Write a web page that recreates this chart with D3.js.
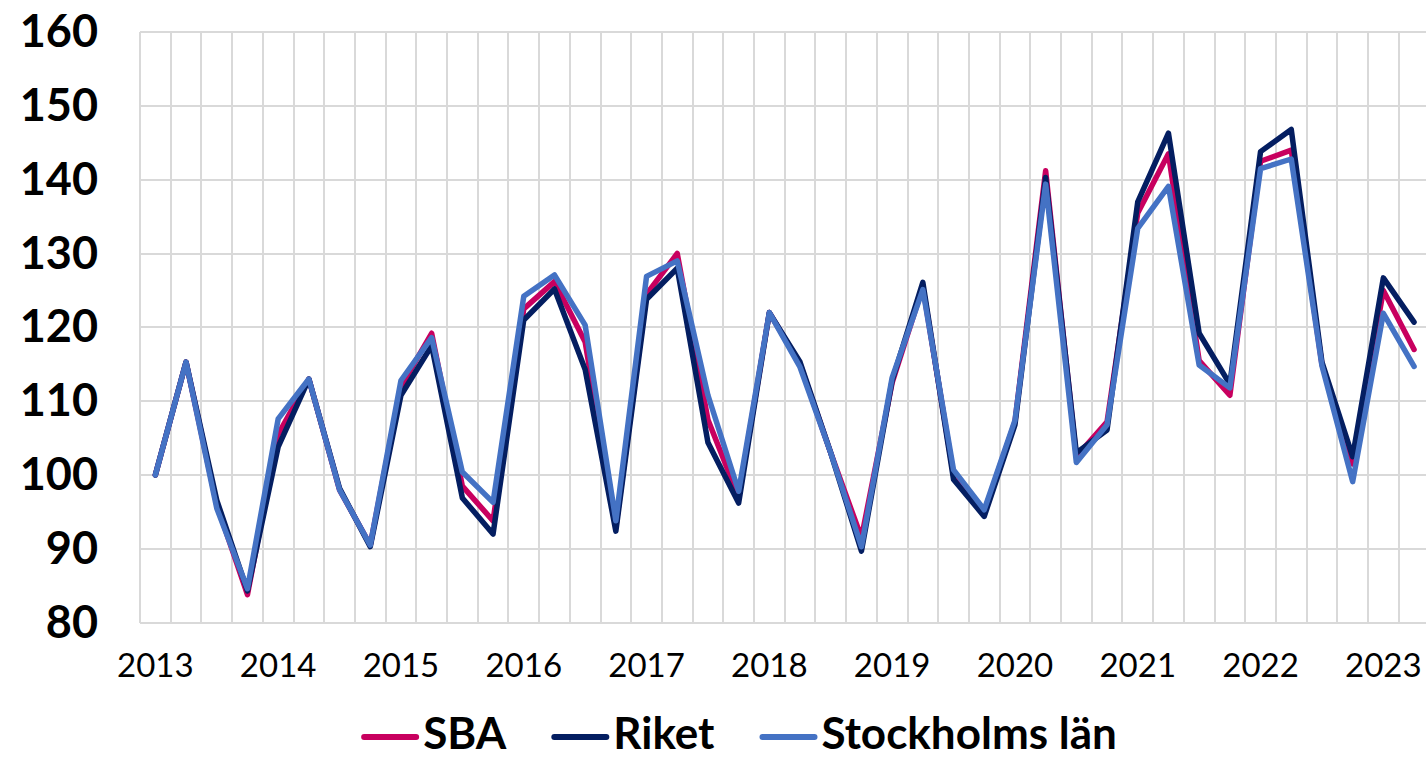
<!DOCTYPE html>
<html>
  <head>
    <meta charset="utf-8">
    <title>SBA, Riket, Stockholms län</title>
<style>
body { margin: 0; background: #fff; }
.grid line { stroke: #d9d9d9; stroke-width: 2px; shape-rendering: crispEdges; }
.ylab { font: 700 45px Lato, sans-serif; fill: #000; }
.xlab { font: 400 33px Lato, sans-serif; fill: #000; }
.leg { font: 700 44px Lato, sans-serif; fill: #000; }
.line { fill: none; stroke-width: 5.5px; stroke-linejoin: round; stroke-linecap: round; }
</style>
    <script src="https://d3js.org/d3.v7.min.js"></script>
  </head>
  <body>
    <script type="text/javascript">

    // quarters 2013 K1 .. 2023 K2
    var years = [2013, 2014, 2015, 2016, 2017, 2018, 2019, 2020, 2021, 2022, 2023];
    var quarters = [];
    years.forEach(function(y) {
      [1, 2, 3, 4].forEach(function(q) {
        if (y < 2023 || q <= 2) quarters.push(y + " K" + q);
      });
    });

    var sba = [100, 115.3, 96, 83.8, 105.5, 113, 98, 90.5, 112, 119.2, 98.5, 93.8,
      122.5, 126.2, 118, 93, 124.5, 130, 107.5, 97, 122, 115, 103, 91.5,
      112.5, 125.5, 100, 95, 107.2, 141.2, 102.5, 107.2, 135.5, 143.5, 115.5, 110.8,
      142.5, 144, 115, 101.5, 125, 117];
    var riket = [100, 115.3, 96.6, 84.3, 103.8, 113, 98.2, 90.3, 110.8, 117.5, 96.9, 92,
      121, 125.2, 114.3, 92.4, 123.8, 128, 104.4, 96.2, 122, 115.3, 103, 89.7,
      112.8, 126.1, 99.4, 94.4, 106.8, 140.3, 103, 106.1, 137, 146.3, 119.2, 112.3,
      143.8, 146.8, 115.3, 102.5, 126.7, 120.7];
    var stockholm = [100, 115.3, 95.5, 84.6, 107.6, 113, 98, 90.5, 112.8, 118.6, 100.4, 96.3,
      124.2, 127.1, 120.3, 93.8, 126.9, 129, 110.8, 97.8, 122, 114.6, 103, 90.3,
      113.2, 125.1, 100.7, 95.3, 107.4, 139.4, 101.7, 106.8, 133.4, 139.1, 114.9, 111.8,
      141.5, 142.8, 114.8, 99.1, 121.9, 114.7];
    var yTicks = [80, 90, 100, 110, 120, 130, 140, 150, 160];

    var series = [
      {name: "SBA", values: sba, color: "#c8005f"},
      {name: "Riket", values: riket, color: "#041e61"},
      {name: "Stockholms län", values: stockholm, color: "#4472c4"}
    ];

    var W = 1426, H = 757;
    var margin = {left: 140, right: 1429.4, top: 32, bottom: 622.7};

    var svg = d3.select("body").append("svg")
      .attr("width", W)
      .attr("height", H);

    var x = d3.scaleBand().domain(quarters).range([margin.left, margin.right]);
    var y = d3.scaleLinear().domain([80, 160]).range([margin.bottom, margin.top]);

    // grid
    var grid = svg.append("g").attr("class", "grid");
    grid.selectAll(".h").data(yTicks).enter().append("line")
      .attr("x1", margin.left).attr("x2", margin.right)
      .attr("y1", function(d) { return y(d); })
      .attr("y2", function(d) { return y(d); });
    var bounds = quarters.map(function(q) { return x(q); }).concat([margin.right]);
    grid.selectAll(".v").data(bounds).enter().append("line")
      .attr("x1", function(d) { return d; }).attr("x2", function(d) { return d; })
      .attr("y1", margin.top).attr("y2", margin.bottom);

    // y labels
    svg.selectAll(".ylab").data(yTicks).enter().append("text")
      .attr("class", "ylab")
      .attr("x", 98)
      .attr("y", function(d) { return y(d) + 15; })
      .attr("text-anchor", "end")
      .text(function(d) { return d; });

    // x labels (year at first quarter)
    svg.selectAll(".xlab").data(years).enter().append("text")
      .attr("class", "xlab")
      .attr("x", function(d) { return x(d + " K1") + x.bandwidth() / 2; })
      .attr("y", 677)
      .attr("text-anchor", "middle")
      .text(function(d) { return d; });

    // lines
    var line = d3.line()
      .x(function(d, i) { return x(quarters[i]) + x.bandwidth() / 2; })
      .y(function(d) { return y(d); });

    series.forEach(function(s) {
      svg.append("path")
        .datum(s.values)
        .attr("class", "line")
        .attr("stroke", s.color)
        .attr("d", line);
    });

    // legend
    var leg = svg.append("g");
    var lx = 0;
    series.forEach(function(s, i) {
      var g = leg.append("g").attr("transform", "translate(" + lx + ",0)");
      g.append("line")
        .attr("x1", 3).attr("x2", 55)
        .attr("y1", 737).attr("y2", 737)
        .attr("stroke", s.color)
        .attr("stroke-width", 6)
        .attr("stroke-linecap", "round");
      var t = g.append("text")
        .attr("class", "leg")
        .attr("x", 62)
        .attr("y", 749)
        .text(s.name);
      lx += 62 + t.node().getComputedTextLength() + 45;
    });
    var lw = lx - 45;
    leg.attr("transform", "translate(" + (739 - lw / 2) + ",0)");

    </script>
  </body>
</html>
